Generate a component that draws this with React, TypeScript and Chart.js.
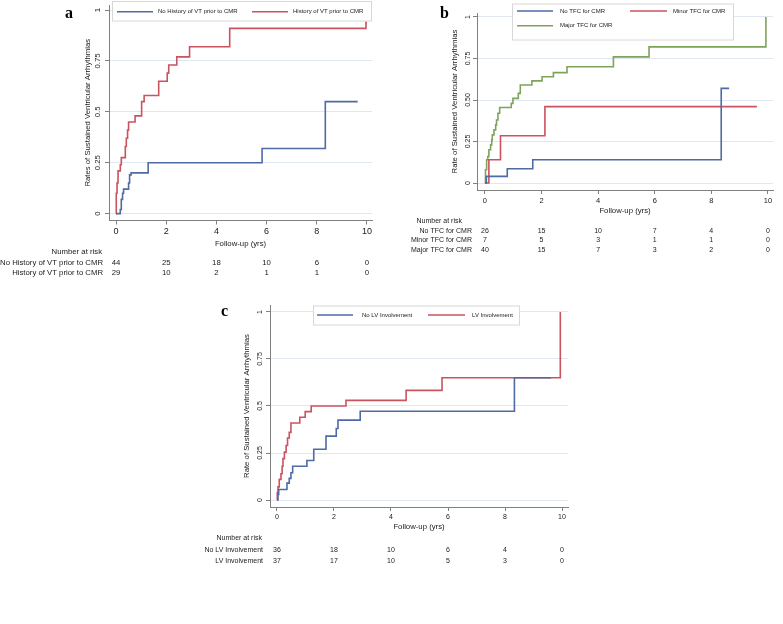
import React, { useEffect, useRef } from 'react';
import { Chart, registerables } from 'chart.js';

Chart.register(...registerables);

// ---------------- Data ----------------
const X_TICKS = [0, 2, 4, 6, 8, 10];
const Y_TICKS = [0, 0.25, 0.5, 0.75, 1];
const A_Y_LABELS = ['0', '0.25', '0.5', '0.75', '1'];
const B_Y_LABELS = ['0', '0.25', '0.50', '0.75', '1'];
const C_Y_LABELS = ['0', '0.25', '0.5', '0.75', '1'];
const X_TITLE = 'Follow-up (yrs)';
const A_Y_TITLE = 'Rates of Sustained Ventricular Arrhythmias';
const BC_Y_TITLE = 'Rate of Sustained Ventricular Arrhythmias';

// Panel a
const A_NAMES = ['No History of VT prior to CMR', 'History of VT prior to CMR'];
const A_NOHIST_T = [0, 0.17, 0.21, 0.26, 0.3, 0.5, 0.54, 0.6, 1.28, 5.82, 8.34, 9.63];
const A_NOHIST_V = [0, 0.02, 0.07, 0.1, 0.12, 0.15, 0.19, 0.2, 0.25, 0.32, 0.55, 0.55];
const A_HIST_T = [0, 0.01, 0.04, 0.08, 0.17, 0.21, 0.37, 0.41, 0.46, 0.5, 0.76, 1.02, 1.12, 1.7, 2.04, 2.1, 2.42, 2.93, 4.53, 9.96, 10.0];
const A_HIST_V = [0, 0.1, 0.15, 0.21, 0.24, 0.275, 0.33, 0.37, 0.41, 0.45, 0.48, 0.55, 0.58, 0.65, 0.69, 0.73, 0.77, 0.82, 0.91, 0.94, 0.94];
const A_RISK_NOHIST = [44, 25, 18, 10, 6, 0];
const A_RISK_HIST = [29, 10, 2, 1, 1, 0];

// Panel b
const B_NAMES = ['No TFC for CMR', 'Minor TFC for CMR', 'Major TFC for CMR'];
const B_NO_T = [0, 0.05, 0.79, 1.69, 8.35, 8.63];
const B_NO_V = [0, 0.04, 0.086, 0.14, 0.57, 0.57];
const B_MINOR_T = [0, 0.14, 0.55, 2.12, 9.61];
const B_MINOR_V = [0, 0.14, 0.285, 0.46, 0.46];
const B_MAJOR_T = [0, 0.02, 0.06, 0.1, 0.14, 0.2, 0.24, 0.26, 0.32, 0.38, 0.41, 0.46, 0.52, 0.93, 0.99, 1.18, 1.25, 1.66, 2.02, 2.42, 2.9, 4.54, 5.8, 9.93];
const B_MAJOR_V = [0, 0.08, 0.14, 0.16, 0.2, 0.23, 0.26, 0.29, 0.32, 0.35, 0.38, 0.42, 0.455, 0.48, 0.51, 0.54, 0.59, 0.615, 0.64, 0.665, 0.7, 0.76, 0.82, 1.0];
const B_RISK_NO = [26, 15, 10, 7, 4, 0];
const B_RISK_MINOR = [7, 5, 3, 1, 1, 0];
const B_RISK_MAJOR = [40, 15, 7, 3, 2, 0];

// Panel c
const C_NAMES = ['No LV Involvement', 'LV Involvement'];
const C_NO_T = [0, 0.035, 0.06, 0.35, 0.43, 0.49, 0.55, 1.05, 1.29, 1.72, 2.08, 2.14, 2.92, 8.33, 9.61];
const C_NO_V = [0, 0.03, 0.056, 0.09, 0.115, 0.145, 0.18, 0.21, 0.27, 0.34, 0.38, 0.425, 0.472, 0.65, 0.65];
const C_LV_T = [0, 0.01, 0.035, 0.08, 0.14, 0.18, 0.21, 0.26, 0.32, 0.37, 0.43, 0.49, 0.8, 0.99, 1.2, 2.42, 4.53, 5.79, 9.94];
const C_LV_V = [0, 0.04, 0.07, 0.11, 0.14, 0.18, 0.22, 0.255, 0.29, 0.33, 0.36, 0.41, 0.44, 0.47, 0.5, 0.53, 0.583, 0.65, 1.0];
const C_RISK_NO = [36, 18, 10, 6, 4, 0];
const C_RISK_LV = [37, 17, 10, 5, 3, 0];

// ---------------- Styles ----------------
const FONT = '"Liberation Sans", Arial, Helvetica, sans-serif';
const BLUE = '#4f6aa6';
const RED = '#c9535f';
const GREEN = '#7ea35a';
const GRID = '#e0e6f2';
const AXIS = '#808080';
const TEXT = '#1a1a1a';
const LINE_W = 1.6;

type Series = { label: string; t: number[]; v: number[]; color: string };
type LegendItem = { x1: number; x2: number; y: number; tx: number; label: string; color: string };
type PanelCfg = {
  left: number; top: number; w: number; h: number;
  pad: { left: number; right: number; top: number; bottom: number };
  yW: number; xH: number;
  xMin: number; xMax: number; yMin: number; yMax: number;
  xTickSize: number; xTickPad: number; xTitleSize: number;
  yTickSize: number; yTickPad: number; yTitleSize: number;
  yTitle: string; yLabels: string[];
  series: Series[];
  legendBox: { x: number; y: number; w: number; h: number };
  legendFont: number;
  legendItems: LegendItem[];
  riskFont: number; riskTitleRight: number; riskTitleY: number; riskRowRight: number;
  riskRowYs: number[]; riskLabels: string[]; riskRows: number[][];
};

function extrasPlugin(c: PanelCfg) {
  return {
    id: 'kmExtras',
    afterDraw(chart: any) {
      const ctx = chart.ctx as CanvasRenderingContext2D;
      const xs = chart.scales.x;
      ctx.save();
      // legend
      const b = c.legendBox;
      ctx.fillStyle = '#ffffff';
      ctx.fillRect(b.x, b.y, b.w, b.h);
      ctx.strokeStyle = '#d8d8d8';
      ctx.lineWidth = 1;
      ctx.strokeRect(b.x + 0.5, b.y + 0.5, b.w, b.h);
      ctx.font = `${c.legendFont}px ${FONT}`;
      ctx.textBaseline = 'middle';
      ctx.textAlign = 'left';
      c.legendItems.forEach((it) => {
        ctx.strokeStyle = it.color;
        ctx.lineWidth = LINE_W;
        ctx.beginPath();
        ctx.moveTo(it.x1, it.y);
        ctx.lineTo(it.x2, it.y);
        ctx.stroke();
        ctx.fillStyle = TEXT;
        ctx.fillText(it.label, it.tx, it.y);
      });
      // risk table
      ctx.font = `${c.riskFont}px ${FONT}`;
      ctx.fillStyle = TEXT;
      ctx.textAlign = 'right';
      ctx.fillText('Number at risk', c.riskTitleRight, c.riskTitleY);
      c.riskRows.forEach((row, i) => {
        ctx.textAlign = 'right';
        ctx.fillText(c.riskLabels[i], c.riskRowRight, c.riskRowYs[i]);
        ctx.textAlign = 'center';
        row.forEach((n, j) => {
          ctx.fillText(String(n), xs.getPixelForValue(X_TICKS[j]), c.riskRowYs[i]);
        });
      });
      ctx.restore();
    },
  };
}

function buildConfig(c: PanelCfg): any {
  return {
    type: 'line',
    data: {
      datasets: c.series.map((s) => ({
        label: s.label,
        data: s.t.map((t, i) => ({ x: t, y: s.v[i] })),
        borderColor: s.color,
        backgroundColor: s.color,
        borderWidth: LINE_W,
        pointRadius: 0,
        pointHoverRadius: 0,
        stepped: 'before',
        fill: false,
      })),
    },
    options: {
      responsive: false,
      animation: false,
      devicePixelRatio: 1,
      events: [],
      layout: { padding: c.pad },
      plugins: { legend: { display: false }, tooltip: { enabled: false } },
      scales: {
        x: {
          type: 'linear',
          position: 'bottom',
          min: c.xMin,
          max: c.xMax,
          afterBuildTicks: (s: any) => { s.ticks = X_TICKS.map((v) => ({ value: v })); },
          afterFit: (s: any) => { s.height = c.xH; s.paddingLeft = 0; s.paddingRight = 0; },
          ticks: {
            autoSkip: false, maxRotation: 0, minRotation: 0, padding: c.xTickPad, color: TEXT,
            font: { family: FONT, size: c.xTickSize },
            callback: (v: number) => String(v),
          },
          grid: { drawOnChartArea: false, drawTicks: true, tickLength: 4, tickColor: AXIS, tickWidth: 1 },
          border: { display: true, color: AXIS, width: 1 },
          title: { display: true, text: X_TITLE, color: TEXT, font: { family: FONT, size: c.xTitleSize }, padding: { top: 0, bottom: 0 } },
        },
        y: {
          type: 'linear',
          position: 'left',
          min: c.yMin,
          max: c.yMax,
          afterBuildTicks: (s: any) => { s.ticks = Y_TICKS.map((v) => ({ value: v })); },
          afterFit: (s: any) => { s.width = c.yW; s.paddingTop = 0; s.paddingBottom = 0; },
          ticks: {
            autoSkip: false, minRotation: 90, maxRotation: 90, crossAlign: 'center', padding: c.yTickPad, color: TEXT,
            font: { family: FONT, size: c.yTickSize },
            callback: (_v: number, i: number) => c.yLabels[i],
          },
          grid: { color: GRID, lineWidth: 1, drawTicks: true, tickLength: 4, tickColor: AXIS, tickWidth: 1 },
          border: { display: true, color: AXIS, width: 1 },
          title: { display: true, text: c.yTitle, color: TEXT, font: { family: FONT, size: c.yTitleSize }, padding: { top: 0, bottom: 0 } },
        },
      },
    },
    plugins: [extrasPlugin(c)],
  };
}

const PANEL_A: PanelCfg = {
  left: 0, top: 0, w: 380, h: 290,
  pad: { left: 83, right: 8, top: 5, bottom: 41 },
  yW: 26, xH: 28.5,
  xMin: -0.28, xMax: 10.2, yMin: -0.034, yMax: 1.025,
  xTickSize: 9, xTickPad: 1.6, xTitleSize: 7.75,
  yTickSize: 7.75, yTickPad: 0, yTitleSize: 7.75,
  yTitle: A_Y_TITLE, yLabels: A_Y_LABELS,
  series: [
    { label: A_NAMES[0], t: A_NOHIST_T, v: A_NOHIST_V, color: BLUE },
    { label: A_NAMES[1], t: A_HIST_T, v: A_HIST_V, color: RED },
  ],
  legendBox: { x: 112, y: 1, w: 259, h: 19.5 },
  legendFont: 6,
  legendItems: [
    { x1: 117, x2: 153, y: 11.7, tx: 158, label: A_NAMES[0], color: BLUE },
    { x1: 252, x2: 288, y: 11.7, tx: 293, label: A_NAMES[1], color: RED },
  ],
  riskFont: 7.75, riskTitleRight: 102, riskTitleY: 252, riskRowRight: 103,
  riskRowYs: [263.3, 273.3], riskLabels: A_NAMES, riskRows: [A_RISK_NOHIST, A_RISK_HIST],
};

const PANEL_B: PanelCfg = {
  left: 385, top: 0, w: 398, h: 265,
  pad: { left: 65.5, right: 10, top: 13, bottom: 49 },
  yW: 26.5, xH: 26,
  xMin: -0.28, xMax: 10.18, yMin: -0.042, yMax: 1.024,
  xTickSize: 7.5, xTickPad: 2.5, xTitleSize: 7.75,
  yTickSize: 7, yTickPad: -2, yTitleSize: 7.75,
  yTitle: BC_Y_TITLE, yLabels: B_Y_LABELS,
  series: [
    { label: B_NAMES[0], t: B_NO_T, v: B_NO_V, color: BLUE },
    { label: B_NAMES[1], t: B_MINOR_T, v: B_MINOR_V, color: RED },
    { label: B_NAMES[2], t: B_MAJOR_T, v: B_MAJOR_V, color: GREEN },
  ],
  legendBox: { x: 127, y: 3.5, w: 221, h: 36 },
  legendFont: 6,
  legendItems: [
    { x1: 132, x2: 168, y: 11, tx: 175, label: B_NAMES[0], color: BLUE },
    { x1: 245, x2: 282, y: 11, tx: 288, label: B_NAMES[1], color: RED },
    { x1: 132, x2: 168, y: 25.7, tx: 175, label: B_NAMES[2], color: GREEN },
  ],
  riskFont: 7, riskTitleRight: 77, riskTitleY: 220.7, riskRowRight: 87,
  riskRowYs: [230.7, 240.5, 250.3], riskLabels: B_NAMES, riskRows: [B_RISK_NO, B_RISK_MINOR, B_RISK_MAJOR],
};

const PANEL_C: PanelCfg = {
  left: 200, top: 295, w: 380, h: 280,
  pad: { left: 42, right: 12, top: 10, bottom: 43 },
  yW: 28, xH: 25,
  xMin: -0.245, xMax: 10.21, yMin: -0.037, yMax: 1.037,
  xTickSize: 7, xTickPad: 2, xTitleSize: 7.75,
  yTickSize: 7, yTickPad: -1, yTitleSize: 7.75,
  yTitle: BC_Y_TITLE, yLabels: C_Y_LABELS,
  series: [
    { label: C_NAMES[0], t: C_NO_T, v: C_NO_V, color: BLUE },
    { label: C_NAMES[1], t: C_LV_T, v: C_LV_V, color: RED },
  ],
  legendBox: { x: 113, y: 10.5, w: 206, h: 19 },
  legendFont: 6,
  legendItems: [
    { x1: 117, x2: 153, y: 20, tx: 162, label: C_NAMES[0], color: BLUE },
    { x1: 228, x2: 265, y: 20, tx: 272, label: C_NAMES[1], color: RED },
  ],
  riskFont: 7, riskTitleRight: 62, riskTitleY: 243, riskRowRight: 63,
  riskRowYs: [255, 265.7], riskLabels: C_NAMES, riskRows: [C_RISK_NO, C_RISK_LV],
};

function Panel({ cfg }: { cfg: PanelCfg }) {
  const ref = useRef<HTMLCanvasElement | null>(null);
  useEffect(() => {
    if (!ref.current) return;
    const chart = new Chart(ref.current, buildConfig(cfg));
    return () => chart.destroy();
  }, [cfg]);
  return (
    <canvas
      ref={ref}
      width={cfg.w}
      height={cfg.h}
      style={{ position: 'absolute', left: cfg.left, top: cfg.top, width: cfg.w, height: cfg.h }}
    />
  );
}

const letterStyle: React.CSSProperties = {
  position: 'absolute',
  font: 'bold 16px "Liberation Serif", "Times New Roman", serif',
  lineHeight: '16px',
  color: '#000',
};

export default function App() {
  return (
    <div style={{ position: 'absolute', left: 0, top: 0, width: 783, height: 624, background: '#fff', overflow: 'hidden' }}>
      <Panel cfg={PANEL_A} />
      <Panel cfg={PANEL_B} />
      <Panel cfg={PANEL_C} />
      <div style={{ ...letterStyle, left: 65, top: 5 }}>a</div>
      <div style={{ ...letterStyle, left: 440, top: 5 }}>b</div>
      <div style={{ ...letterStyle, left: 221, top: 303 }}>c</div>
    </div>
  );
}
